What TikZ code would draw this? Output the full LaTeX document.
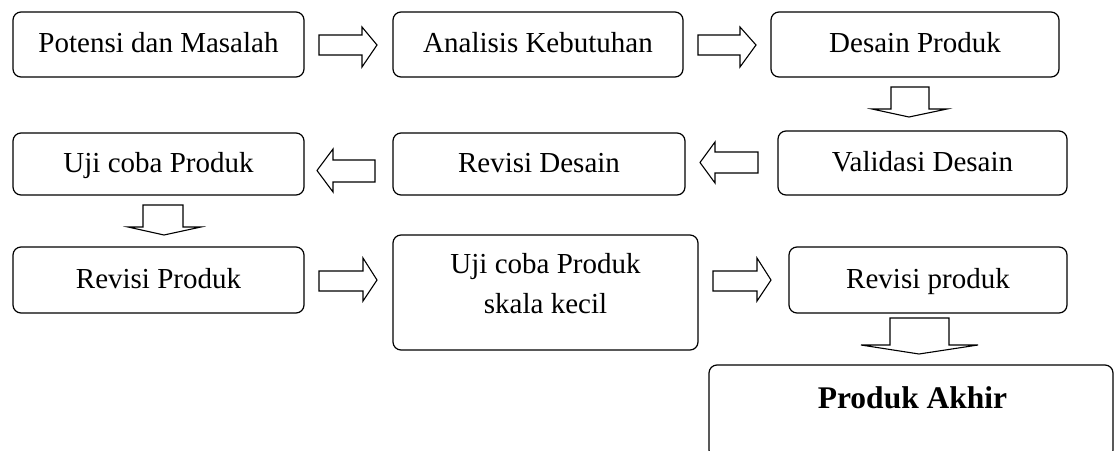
\documentclass[tikz,border=0pt]{standalone}
\usepackage{fontspec}
\setmainfont{Liberation Serif}
\begin{document}
\begin{tikzpicture}[x=1pt,y=-1pt,
  box/.style={draw, rounded corners=8pt, line width=1.2pt, inner sep=0pt,
    font=\fontsize{29}{40}\selectfont, align=center, text height=21pt, text depth=5pt},
  txt/.style={inner sep=0pt, font=\fontsize{29}{40}\selectfont, align=center},
  blk/.style={draw, line width=1.1pt, fill=white, line join=miter}]
\useasboundingbox (0,0) rectangle (1114,450);
\clip (0,0) rectangle (1114,450);
% row 1
\node[box, minimum width=291pt, minimum height=65pt] (b1) at (158.5,44.5) {Potensi dan Masalah};
\node[box, minimum width=290pt, minimum height=65pt] (b2) at (538,44.5) {Analisis Kebutuhan};
\node[box, minimum width=288pt, minimum height=65pt] (b3) at (915,44.5) {Desain Produk};
% row 2
\node[box, minimum width=289pt, minimum height=64pt] (b4) at (922.5,163) {Validasi Desain};
\node[box, minimum width=292pt, minimum height=62pt] (b5) at (539,164) {Revisi Desain};
\node[box, minimum width=291pt, minimum height=62pt] (b6) at (158.5,164) {Uji coba Produk};
% row 3
\node[box, minimum width=291pt, minimum height=66pt] (b7) at (158.5,280) {Revisi Produk};
\node[box, minimum width=305pt, minimum height=115pt] (b8) at (545.5,292.5) {};
\node[txt] (t8) at (545.5,284) {Uji coba Produk\\skala kecil};
\node[box, minimum width=278pt, minimum height=66pt] (b9) at (928,280) {Revisi produk};
% final
\node[box, minimum width=404pt, minimum height=93pt] (b10) at (911,411.5) {};
\node[txt, font=\fontsize{31.5}{38}\selectfont\bfseries] (t10) at (912.5,398) {Produk Akhir};
% block arrows
\draw[blk] (319,35) -- (362,35) -- (362,27) -- (377,45) -- (362,67) -- (362,55) -- (319,55) -- cycle;
\draw[blk] (698,35) -- (740,35) -- (740,27) -- (756,45) -- (740,67) -- (740,55) -- (698,55) -- cycle;
\draw[blk] (891,87) -- (929,87) -- (929,109) -- (947,109) -- (909,117) -- (872,109) -- (891,109) -- cycle;
\draw[blk] (758,152) -- (715,152) -- (715,142) -- (700,162.5) -- (715,183) -- (715,173) -- (758,173) -- cycle;
\draw[blk] (375,160) -- (333,160) -- (333,149) -- (317,170.5) -- (333,192) -- (333,182) -- (375,182) -- cycle;
\draw[blk] (143,205) -- (183,205) -- (183,227) -- (201,227) -- (164,235) -- (128,227) -- (143,227) -- cycle;
\draw[blk] (319,271) -- (363,271) -- (363,258) -- (377,280) -- (363,301) -- (363,291) -- (319,291) -- cycle;
\draw[blk] (713,271) -- (757,271) -- (757,258) -- (771,280) -- (757,301) -- (757,291) -- (713,291) -- cycle;
\draw[blk] (890,318) -- (949,318) -- (949,345) -- (978,345) -- (919,354) -- (861,345) -- (890,345) -- cycle;
\end{tikzpicture}
\end{document}
